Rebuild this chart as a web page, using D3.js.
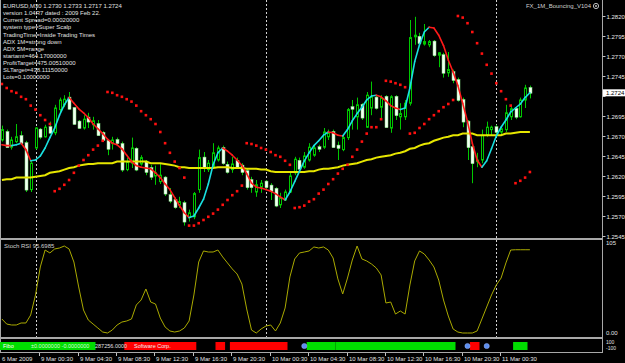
<!DOCTYPE html>
<html><head><meta charset="utf-8">
<script src="https://cdn.jsdelivr.net/npm/d3@7"></script>
<style>
html,body{margin:0;padding:0;background:#000;overflow:hidden}
svg{display:block}
text{font-family:"Liberation Sans",Arial,sans-serif}
</style></head><body>
<script>
// bar index relative to 9 Mar 2009 00:00 (M30 bars)
const barIndex = d3.range(-7, 104);
const open = [1.2665,1.2675,1.2656,1.2663,1.2670,1.2661,1.2603,1.2655,1.2678,1.2669,
1.2681,1.2674,1.2703,1.2709,1.2718,1.2705,1.2688,1.2680,1.2693,1.2684,
1.2685,1.2674,1.2664,1.2661,1.2665,1.2660,1.2628,1.2636,1.2654,1.2635,
1.2638,1.2630,1.2620,1.2613,1.2618,1.2596,1.2590,1.2584,1.2586,1.2568,
1.2569,1.2603,1.2643,1.2628,1.2631,1.2640,1.2655,1.2634,1.2628,1.2639,
1.2633,1.2626,1.2615,1.2600,1.2606,1.2613,1.2608,1.2604,1.2584,1.2590,
1.2600,1.2624,1.2639,1.2631,1.2640,1.2646,1.2656,1.2656,1.2669,1.2675,
1.2658,1.2653,1.2668,1.2706,1.2694,1.2709,1.2681,1.2705,1.2718,1.2706,
1.2719,1.2680,1.2719,1.2694,1.2694,1.2711,1.2794,1.2794,1.2785,1.2784,
1.2788,1.2771,1.2771,1.2749,1.2750,1.2740,1.2715,1.2688,1.2656,1.2638,
1.2640,1.2671,1.2678,1.2681,1.2675,1.2678,1.2694,1.2704,1.2694,1.2715,1.2730];
const high = [1.2683,1.2678,1.2669,1.2685,1.2676,1.2664,1.2639,1.2681,1.2680,1.2684,
1.2688,1.2709,1.2718,1.2721,1.2725,1.2706,1.2690,1.2696,1.2699,1.2694,
1.2690,1.2676,1.2665,1.2669,1.2668,1.2663,1.2643,1.2668,1.2656,1.2646,
1.2640,1.2634,1.2633,1.2635,1.2620,1.2605,1.2593,1.2594,1.2589,1.2578,
1.2600,1.2653,1.2650,1.2640,1.2661,1.2658,1.2658,1.2638,1.2644,1.2643,
1.2636,1.2629,1.2619,1.2615,1.2615,1.2615,1.2611,1.2606,1.2599,1.2603,
1.2624,1.2644,1.2643,1.2650,1.2661,1.2659,1.2659,1.2680,1.2678,1.2678,
1.2663,1.2671,1.2705,1.2715,1.2718,1.2711,1.2725,1.2738,1.2721,1.2721,
1.2721,1.2721,1.2721,1.2711,1.2715,1.2815,1.2819,1.2799,1.2810,1.2790,
1.2790,1.2775,1.2774,1.2775,1.2753,1.2743,1.2718,1.2690,1.2659,1.2649,
1.2678,1.2688,1.2683,1.2684,1.2681,1.2709,1.2709,1.2706,1.2718,1.2734,1.2733];
const low = [1.2663,1.2655,1.2653,1.2661,1.2659,1.2600,1.2600,1.2653,1.2666,1.2668,
1.2673,1.2671,1.2700,1.2706,1.2703,1.2684,1.2679,1.2678,1.2680,1.2678,
1.2670,1.2663,1.2646,1.2653,1.2658,1.2625,1.2626,1.2630,1.2626,1.2633,
1.2621,1.2615,1.2609,1.2610,1.2595,1.2586,1.2579,1.2580,1.2558,1.2563,
1.2566,1.2599,1.2625,1.2625,1.2630,1.2638,1.2634,1.2623,1.2624,1.2629,
1.2621,1.2603,1.2599,1.2594,1.2599,1.2603,1.2590,1.2581,1.2580,1.2589,
1.2599,1.2621,1.2628,1.2629,1.2638,1.2644,1.2650,1.2654,1.2665,1.2655,
1.2640,1.2651,1.2665,1.2678,1.2678,1.2690,1.2680,1.2696,1.2703,1.2690,
1.2680,1.2674,1.2690,1.2678,1.2690,1.2708,1.2784,1.2784,1.2783,1.2781,
1.2769,1.2756,1.2743,1.2744,1.2736,1.2713,1.2681,1.2640,1.2611,1.2631,
1.2636,1.2669,1.2671,1.2671,1.2671,1.2675,1.2690,1.2691,1.2693,1.2705,1.2717];
const close = [1.2678,1.2656,1.2665,1.2669,1.2661,1.2603,1.2636,1.2680,1.2669,1.2681,
1.2674,1.2705,1.2715,1.2716,1.2704,1.2685,1.2680,1.2691,1.2688,1.2689,
1.2671,1.2665,1.2654,1.2665,1.2661,1.2628,1.2638,1.2655,1.2628,1.2643,
1.2625,1.2619,1.2624,1.2621,1.2598,1.2589,1.2581,1.2588,1.2563,1.2574,
1.2598,1.2643,1.2630,1.2636,1.2649,1.2655,1.2636,1.2625,1.2635,1.2631,
1.2625,1.2606,1.2606,1.2609,1.2611,1.2606,1.2601,1.2583,1.2593,1.2600,
1.2620,1.2641,1.2629,1.2645,1.2656,1.2655,1.2654,1.2675,1.2674,1.2656,
1.2655,1.2668,1.2703,1.2704,1.2709,1.2693,1.2721,1.2719,1.2705,1.2718,
1.2681,1.2719,1.2696,1.2698,1.2711,1.2793,1.2796,1.2786,1.2788,1.2788,
1.2771,1.2774,1.2749,1.2753,1.2740,1.2715,1.2688,1.2656,1.2636,1.2640,
1.2671,1.2681,1.2681,1.2675,1.2679,1.2699,1.2704,1.2694,1.2715,1.2730,1.2724];
// fast smoothed MA (cyan when rising, red when falling)
const fastMA = [1.2659,1.2658,1.2658,1.2659,1.2661,1.2653,1.2639,1.2640,1.2645,1.2655,
1.2668,1.2680,1.2696,1.2709,1.2718,1.2711,1.2704,1.2699,1.2693,1.2685,
1.2679,1.2673,1.2666,1.2661,1.2659,1.2654,1.2646,1.2638,1.2633,1.2631,
1.2630,1.2629,1.2624,1.2618,1.2610,1.2603,1.2593,1.2583,1.2574,1.2568,
1.2570,1.2580,1.2591,1.2610,1.2634,1.2649,1.2655,1.2651,1.2646,1.2640,
1.2633,1.2623,1.2611,1.2606,1.2605,1.2603,1.2601,1.2598,1.2594,1.2590,
1.2600,1.2613,1.2626,1.2639,1.2649,1.2658,1.2664,1.2671,1.2675,1.2674,
1.2671,1.2670,1.2678,1.2689,1.2698,1.2706,1.2715,1.2720,1.2721,1.2719,
1.2714,1.2708,1.2705,1.2703,1.2705,1.2730,1.2763,1.2784,1.2800,1.2806,
1.2805,1.2796,1.2783,1.2765,1.2750,1.2733,1.2711,1.2688,1.2661,1.2640,
1.2631,1.2639,1.2654,1.2670,1.2681,1.2690,1.2700,1.2705,1.2710,1.2718,1.2724];
// slow moving average (yellow)
const slowMA = [1.2615,1.2616,1.2616,1.2618,1.2618,1.2618,1.2618,1.2619,1.2620,1.2621,
1.2624,1.2625,1.2626,1.2628,1.2630,1.2631,1.2633,1.2634,1.2635,1.2635,
1.2636,1.2636,1.2636,1.2636,1.2638,1.2638,1.2638,1.2638,1.2638,1.2638,
1.2638,1.2636,1.2636,1.2636,1.2635,1.2634,1.2633,1.2631,1.2631,1.2630,
1.2630,1.2630,1.2630,1.2630,1.2630,1.2631,1.2631,1.2631,1.2630,1.2630,
1.2630,1.2629,1.2629,1.2629,1.2628,1.2628,1.2626,1.2625,1.2625,1.2625,
1.2625,1.2625,1.2625,1.2625,1.2626,1.2626,1.2628,1.2629,1.2629,1.2630,
1.2631,1.2633,1.2634,1.2635,1.2636,1.2638,1.2640,1.2641,1.2643,1.2644,
1.2645,1.2646,1.2648,1.2649,1.2651,1.2654,1.2655,1.2658,1.2660,1.2661,
1.2664,1.2666,1.2668,1.2669,1.2671,1.2671,1.2673,1.2673,1.2673,1.2671,
1.2671,1.2671,1.2671,1.2671,1.2671,1.2673,1.2673,1.2674,1.2675,1.2675,1.2675];
// parabolic SAR
const sar = [1.2735,1.2730,1.2726,1.2724,1.2719,1.2716,1.2708,1.2703,1.2696,1.2690,
1.2685,1.2601,1.2604,1.2609,1.2615,1.2624,1.2633,1.2640,1.2646,1.2653,
1.2658,1.2664,1.2725,1.2724,1.2721,1.2719,1.2716,1.2713,1.2708,1.2701,
1.2696,1.2691,1.2685,1.2675,1.2661,1.2649,1.2638,1.2630,1.2618,1.2558,
1.2558,1.2561,1.2565,1.2569,1.2573,1.2578,1.2584,1.2590,1.2596,1.2601,
1.2608,1.2661,1.2660,1.2658,1.2655,1.2653,1.2650,1.2646,1.2644,1.2639,
1.2634,1.2580,1.2581,1.2583,1.2588,1.2591,1.2598,1.2603,1.2610,1.2616,
1.2623,1.2629,1.2634,1.2644,1.2653,1.2663,1.2673,1.2681,1.2681,1.2691,
1.2739,1.2738,1.2736,1.2734,1.2731,1.2673,1.2674,1.2680,1.2685,1.2691,
1.2696,1.2701,1.2706,1.2710,1.2715,1.2820,1.2818,1.2811,1.2800,1.2786,
1.2773,1.2759,1.2748,1.2736,1.2726,1.2716,1.2708,1.2611,1.2614,1.2618,1.2625];
const stochRSI = [16.1,10.3,9.2,9.2,11.5,11.5,20.7,43.7,75.9,95.4,
92.0,96.6,97.7,100,96.6,81.6,52.9,26.4,14.9,10.3,
5.7,1.1,0,3.4,9.2,12.6,13.8,16.1,32.2,37.9,
50.6,35.6,33.3,17.2,6.9,2.3,1.1,2.3,5.7,13.8,
43.7,81.6,94.3,93.1,93.1,95.4,87.4,80.5,73.6,67.8,
56.3,27.6,3.4,0,4.6,8.0,9.2,2.3,11.5,28.7,
64.4,85.1,92.0,93.1,94.3,98.9,97.7,98.9,95.4,86.2,
62.1,44.8,63.2,83.9,100,85.1,82.8,79.3,74.7,66.7,
34.5,35.6,21.8,25.3,21.8,55.2,82.8,94.3,90.8,83.9,
75.9,60.9,37.9,19.5,4.6,1.1,0,0,0,2.3,
16.1,29.9,43.7,55.2,63.2,80.5,95.4,95.7,95.7,95.7,95.6985];
const priceTicks = [1.2545,1.2570,1.2595,1.2620,1.2645,1.2670,1.2695,1.2720,1.2745,1.2770,1.2795,1.2820];
const currentPrice = 1.2724;
const timeLabelBars = [1,9,17,25,33,41,49,57,65,73,81,89,97];
const timeLabels = ["9 Mar 00:30","9 Mar 04:30","9 Mar 08:30","9 Mar 12:30","9 Mar 16:30","9 Mar 20:30",
  "10 Mar 00:30","10 Mar 04:30","10 Mar 08:30","10 Mar 12:30","10 Mar 16:30","10 Mar 20:30","11 Mar 00:30"];
const firstDateLabel = "6 Mar 2009";
const daySeparators = [0,48,96];
const signalStart = [-7,19,38,41,57,63,91,100];
const signalEnd   = [12,33,39,52,62,87,92,102];
const signalType  = [1,-1,-1,-1,1,1,-1,1];
const signalDots  = [56,90,94];
const signalTexts = ["Fibo","±0.0000000 -0.0000000","287256.0000","Software Corp."];
const infoLines = ["EURUSD,M30  1.2730 1.2733 1.2717 1.2724","version 1.04R7 dated : 2009 Feb 22.",
 "Current Spread=0.00020000","system type=Super Scalp","TradingTime=Inside Trading Times",
 "ADX 1M=strong down","ADX 5M=range","startamt=464.17000000","ProfitTarget=475.00510000",
 "SLTarget=438.11150000","Lots=0.10000000"];
const expertName = "FX_1M_Bouncing_V104";
const stochTitle = "Stoch RSI 95.6985";

const W=625,H=363, RX=602;
const svg=d3.select("body").append("svg").attr("width",W).attr("height",H).style("background","#000");
const x=d3.scaleLinear().domain([-7,103]).range([1.9,529.9]);
const y=d3.scaleLinear().domain([1.2545,1.2820]).range([236,16]);
const ys=d3.scaleLinear().domain([0,105]).range([333,241.65]);

const bars=barIndex.map((k,i)=>({k,o:open[i],h:high[i],l:low[i],c:close[i],f:fastMA[i],s:slowMA[i],p:sar[i],r:stochRSI[i]}));

svg.append("defs").append("clipPath").attr("id","mainclip").append("rect").attr("x",1).attr("y",0).attr("width",RX-1).attr("height",238);

// panel frames
const grey="#a8a8a8";
svg.append("rect").attr("x",0).attr("y",238).attr("width",RX+1).attr("height",2).attr("fill",grey);
svg.append("rect").attr("x",0).attr("y",337).attr("width",RX+1).attr("height",2).attr("fill",grey);
svg.append("line").attr("x1",0).attr("x2",RX+1).attr("y1",352.5).attr("y2",352.5).attr("stroke",grey);
svg.append("line").attr("x1",0.5).attr("x2",0.5).attr("y1",0).attr("y2",353).attr("stroke",grey);
svg.append("line").attr("x1",RX+0.5).attr("x2",RX+0.5).attr("y1",0).attr("y2",353).attr("stroke",grey);

// day separators
svg.append("g").selectAll("line").data(daySeparators).join("line")
  .attr("x1",d=>Math.round(x(d))+0.5).attr("x2",d=>Math.round(x(d))+0.5)
  .attr("y1",0).attr("y2",337).attr("stroke","#d0d0d0").attr("stroke-dasharray","2,2");

const main=svg.append("g").attr("clip-path","url(#mainclip)");
// candles
const cg=main.append("g");
bars.forEach(b=>{
  const a=Math.round(x(b.k));
  cg.append("line").attr("x1",a+0.5).attr("x2",a+0.5).attr("y1",y(b.h)).attr("y2",y(b.l)).attr("stroke","#00c800").attr("stroke-width",1);
  const top=y(Math.max(b.o,b.c)), bot=y(Math.min(b.o,b.c));
  if(b.c>=b.o){
    cg.append("rect").attr("x",a-0.5).attr("y",top).attr("width",2).attr("height",Math.max(1,bot-top)).attr("fill","#000").attr("stroke","#00c800");
  } else {
    cg.append("rect").attr("x",a-1).attr("y",top-0.5).attr("width",3).attr("height",Math.max(1,bot-top+1)).attr("fill","#f2fff2").attr("stroke","#7fe07f").attr("stroke-width",0.5);
  }
});
// slow MA
main.append("path").datum(bars).attr("fill","none").attr("stroke","#e6e600").attr("stroke-width",2)
  .attr("d",d3.line().x(d=>x(d.k)).y(d=>y(d.s)));
// fast MA coloured by slope
let prevCol="#ff1a1a";
for(let i=1;i<bars.length;i++){
  const a=bars[i-1],b=bars[i];
  let col=b.f>a.f?"#19e0e0":(b.f<a.f?"#ff1a1a":prevCol);
  prevCol=col;
  main.append("line").attr("x1",x(a.k)).attr("y1",y(a.f)).attr("x2",x(b.k)).attr("y2",y(b.f))
    .attr("stroke",col).attr("stroke-width",1.6).attr("stroke-linecap","round");
}
// SAR dots
main.append("g").selectAll("rect").data(bars).join("rect")
  .attr("x",d=>x(d.k)-1.3).attr("y",d=>y(d.p)-1.3).attr("width",2.6).attr("height",2.6).attr("fill","#ff1010");

// price axis (the 1.2720 label sits under the current-price box, so only its tick is drawn)
const ax=svg.append("g").attr("transform",`translate(${RX+0.5},0)`)
  .call(d3.axisRight(y).tickValues(priceTicks).tickFormat(d=>Math.abs(d-currentPrice)<0.0006?"":d3.format(".4f")(d)).tickSize(3).tickPadding(1));
ax.select(".domain").remove();
ax.selectAll("line").attr("stroke","#c0c0c0");
ax.selectAll("text").attr("fill","#e8e8e8").style("font-size","6px").attr("dy","0.35em");
// current price box
svg.append("rect").attr("x",RX+1).attr("y",y(currentPrice)-3.5).attr("width",22).attr("height",7).attr("fill","#fff");
svg.append("text").attr("x",RX+4).attr("y",y(currentPrice)).attr("dy","0.35em").attr("fill","#000").style("font-size","6px").text(d3.format(".4f")(currentPrice));

// info text
svg.append("g").selectAll("text").data(infoLines).join("text")
  .attr("x",3).attr("y",(d,i)=>6+i*7.1).attr("dy","0.35em").attr("fill","#e0e0e0").style("font-size","6px").text(d=>d);
svg.append("text").attr("x",591).attr("y",6).attr("dy","0.35em").attr("text-anchor","end").attr("fill","#d0d0d0").style("font-size","6px").text(expertName);
svg.append("circle").attr("cx",596).attr("cy",6).attr("r",2.6).attr("fill","none").attr("stroke","#c0c0c0");
svg.append("circle").attr("cx",596).attr("cy",6).attr("r",1).attr("fill","#c0c0c0");

// stoch panel
svg.append("path").datum(bars).attr("fill","none").attr("stroke","#aaaa00").attr("stroke-width",1)
  .attr("d",d3.line().x(d=>x(d.k)).y(d=>ys(d.r)));
svg.append("text").attr("x",4).attr("y",246).attr("dy","0.35em").attr("fill","#d0d0d0").style("font-size","6px").text(stochTitle);
svg.append("text").attr("x",RX+4).attr("y",ys(105)+1.5).attr("dy","0.35em").attr("fill","#e0e0e0").style("font-size","6px").text("105");
svg.append("text").attr("x",RX+4).attr("y",ys(0)).attr("dy","0.35em").attr("fill","#e0e0e0").style("font-size","6px").text("0.00");

// signal panel
const sg=svg.append("g");
signalStart.forEach((s,i)=>{
  sg.append("rect").attr("x",x(s)-2.4).attr("y",342).attr("width",x(signalEnd[i])-x(s)+4.8).attr("height",8)
    .attr("fill",signalType[i]>0?"#00dd00":"#ff0000");
});
sg.selectAll("circle").data(signalDots).join("circle").attr("cx",d=>x(d)).attr("cy",346).attr("r",2.6)
  .attr("fill","#5b8def").attr("stroke","#9ab6ff").attr("stroke-width",0.5);
const stx=[3,31,95,134], stc=["#ffffff","#d8ffd8","#e0e0e0","#f0f0f0"];
signalTexts.forEach((t,i)=>{
  svg.append("text").attr("x",stx[i]).attr("y",346).attr("dy","0.35em").attr("fill",stc[i]).style("font-size","5.5px").text(t);
});
svg.append("text").attr("x",RX+4).attr("y",342).attr("dy","0.35em").attr("fill","#e0e0e0").style("font-size","5px").text("100");
svg.append("text").attr("x",RX+4).attr("y",348.5).attr("dy","0.35em").attr("fill","#e0e0e0").style("font-size","5px").text("-100");

// time axis
const tg=svg.append("g");
tg.append("text").attr("x",2).attr("y",358.5).attr("dy","0.35em").attr("fill","#e0e0e0").style("font-size","6px").text(firstDateLabel);
timeLabelBars.forEach((k,i)=>{
  const a=Math.round(x(k))-1;
  tg.append("line").attr("x1",a+0.5).attr("x2",a+0.5).attr("y1",353).attr("y2",356).attr("stroke","#c0c0c0");
  tg.append("text").attr("x",a+2).attr("y",358.5).attr("dy","0.35em").attr("fill","#e0e0e0").style("font-size","6px").text(timeLabels[i]);
});
</script>
</body></html>
